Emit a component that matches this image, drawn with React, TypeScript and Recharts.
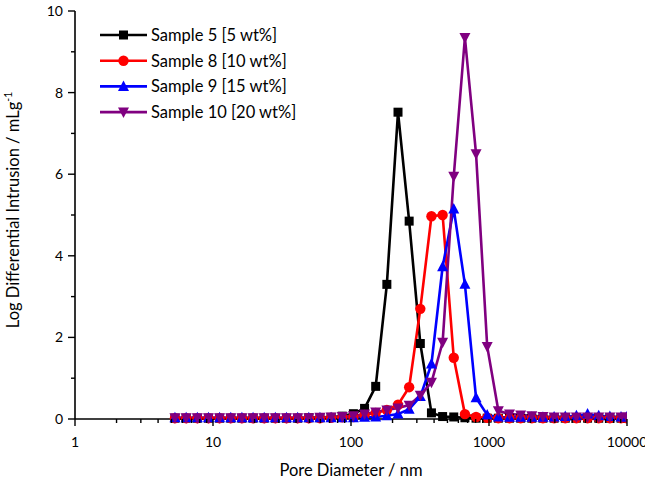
import React from 'react';
import { LineChart, Line, XAxis, YAxis, Customized } from 'recharts';

const poreDiameter = [
  5.3, 6.39, 7.7, 9.27, 11.16, 13.45, 16.2, 19.51, 23.5, 28.31,
  34.09, 41.06, 49.46, 59.57, 71.75, 86.43, 104.1, 125.4, 151.0, 181.9,
  219.1, 263.9, 317.9, 382.8, 461.2, 555.4, 669.0, 805.8, 970.5, 1169,
  1408, 1696, 2043, 2460, 2964, 3570, 4300, 5179, 6237, 7513, 9049, 9950,
];

const sample5 = [
  0.02, 0.02, 0.02, 0.02, 0.02, 0.02, 0.02, 0.02, 0.02, 0.02,
  0.02, 0.02, 0.03, 0.03, 0.04, 0.07, 0.13, 0.26, 0.8, 3.3,
  7.52, 4.85, 1.85, 0.15, 0.06, 0.05, 0.03, 0.02, 0.02, 0.02,
  0.02, 0.02, 0.02, 0.02, 0.02, 0.02, 0.02, 0.02, 0.02, 0.02, 0.02, 0.02,
];

const sample8 = [
  0.02, 0.02, 0.02, 0.02, 0.02, 0.02, 0.02, 0.02, 0.02, 0.02,
  0.02, 0.02, 0.02, 0.02, 0.03, 0.04, 0.05, 0.1, 0.15, 0.22,
  0.35, 0.78, 2.7, 4.97, 5.0, 1.5, 0.12, 0.05, 0.03, 0.02,
  0.02, 0.02, 0.02, 0.02, 0.02, 0.02, 0.02, 0.02, 0.02, 0.02, 0.02, 0.02,
];

const sample9 = [
  0.03, 0.03, 0.03, 0.03, 0.03, 0.03, 0.03, 0.03, 0.03, 0.03,
  0.03, 0.03, 0.03, 0.03, 0.03, 0.03, 0.03, 0.04, 0.05, 0.08,
  0.12, 0.24, 0.55, 1.35, 3.73, 5.15, 3.3, 0.52, 0.1, 0.05,
  0.04, 0.04, 0.04, 0.04, 0.05, 0.06, 0.08, 0.12, 0.08, 0.06, 0.05, 0.05,
];

const sample10 = [
  0.03, 0.03, 0.03, 0.03, 0.03, 0.03, 0.03, 0.03, 0.03, 0.03,
  0.03, 0.03, 0.03, 0.04, 0.05, 0.06, 0.08, 0.12, 0.17, 0.22,
  0.27, 0.34, 0.58, 0.9, 1.88, 5.95, 9.35, 6.5, 1.78, 0.2,
  0.12, 0.1, 0.08, 0.06, 0.05, 0.05, 0.05, 0.05, 0.05, 0.05, 0.05, 0.05,
];

const seriesNames = ['Sample 5 [5 wt%]', 'Sample 8 [10 wt%]', 'Sample 9 [15 wt%]', 'Sample 10 [20 wt%]'];
const seriesKeys = ['s5', 's8', 's9', 's10'];
const seriesColors = ['#000000', '#ff0000', '#0000ff', '#800080'];
const seriesShapes = ['square', 'circle', 'triangleUp', 'triangleDown'];

const xTicks = [
  1, 2, 3, 4, 5, 6, 7, 8, 9,
  10, 20, 30, 40, 50, 60, 70, 80, 90,
  100, 200, 300, 400, 500, 600, 700, 800, 900,
  1000, 2000, 3000, 4000, 5000, 6000, 7000, 8000, 9000,
  10000,
];
const xTickLabels = ['1', '10', '100', '1000', '10000'];
const yTicks = [0, 1, 2, 3, 4, 5, 6, 7, 8, 9, 10];
const yTickLabels = ['0', '2', '4', '6', '8', '10'];

const xTitle = 'Pore Diameter / nm';
const yTitle = 'Log Differential Intrusion / mLg';
const yTitleSup = '-1';

const data = poreDiameter.map((d, i) => ({
  d,
  s5: sample5[i],
  s8: sample8[i],
  s9: sample9[i],
  s10: sample10[i],
}));

const FONT = 'Lato, "Open Sans", sans-serif';

function Marker({ shape, cx, cy, color }: { shape: string; cx: number; cy: number; color: string }) {
  if (shape === 'square') {
    return <rect x={cx - 4.5} y={cy - 4.5} width={9} height={9} fill={color} />;
  }
  if (shape === 'circle') {
    return <circle cx={cx} cy={cy} r={5.2} fill={color} />;
  }
  if (shape === 'triangleUp') {
    return <polygon points={`${cx},${cy - 6} ${cx - 5.5},${cy + 4.5} ${cx + 5.5},${cy + 4.5}`} fill={color} />;
  }
  return <polygon points={`${cx},${cy + 6} ${cx - 5.5},${cy - 4.5} ${cx + 5.5},${cy - 4.5}`} fill={color} />;
}

const makeDot = (shape: string, color: string) => (props: any) => {
  const { cx, cy, index } = props;
  if (cx == null || cy == null) return <g key={`d-${index}`} />;
  return (
    <g key={`${shape}-${index}`}>
      <Marker shape={shape} cx={cx} cy={cy} color={color} />
    </g>
  );
};

const XTick = (props: any) => {
  const { x, y, payload } = props;
  const v = payload.value;
  const label = xTickLabels.find((l) => Number(l) === v);
  const major = label !== undefined;
  return (
    <g>
      <line x1={x} x2={x} y1={y} y2={y + (major ? 7 : 4)} stroke="#000" strokeWidth={1.4} />
      {major && (
        <text x={x} y={y + 28} textAnchor="middle" fontSize={14} fontFamily={FONT} fill="#000">
          {label}
        </text>
      )}
    </g>
  );
};

const YTick = (props: any) => {
  const { x, y, payload } = props;
  const v = payload.value;
  const label = yTickLabels.find((l) => Number(l) === v);
  const major = label !== undefined;
  return (
    <g>
      <line x1={x} x2={x - (major ? 7 : 4)} y1={y} y2={y} stroke="#000" strokeWidth={1.4} />
      {major && (
        <text x={x - 12} y={y + 5} textAnchor="end" fontSize={14} fontFamily={FONT} fill="#000">
          {label}
        </text>
      )}
    </g>
  );
};

const LegendBox = () => {
  const left = 100;
  const top = 35;
  const gap = 25.7;
  return (
    <g>
      {seriesNames.map((name, i) => {
        const cy = top + i * gap;
        return (
          <g key={name}>
            <line x1={left} x2={left + 47} y1={cy} y2={cy} stroke={seriesColors[i]} strokeWidth={2.6} />
            <Marker shape={seriesShapes[i]} cx={left + 23.5} cy={cy} color={seriesColors[i]} />
            <text x={left + 51} y={cy + 6} fontSize={16.5} fontFamily={FONT} fill="#000">
              {name}
            </text>
          </g>
        );
      })}
    </g>
  );
};

const Titles = () => (
  <g>
    <text x={351} y={476} textAnchor="middle" fontSize={16.5} fontFamily={FONT} fill="#000">
      {xTitle}
    </text>
    <text
      transform="translate(19, 210) rotate(-90)"
      textAnchor="middle"
      fontSize={16.5}
      fontFamily={FONT}
      fill="#000"
    >
      {yTitle}
      <tspan dy={-7} fontSize={10.5}>
        {yTitleSup}
      </tspan>
    </text>
  </g>
);

export default function App() {
  return (
    <div style={{ position: 'absolute', left: 0, top: 0, width: 645, height: 484, background: '#fff' }}>
      <LineChart width={645} height={484} data={data} margin={{ top: 11, right: 18, left: 0, bottom: 0 }}>
        <XAxis
          dataKey="d"
          type="number"
          scale="log"
          domain={[1, 10000]}
          ticks={xTicks}
          interval={0}
          height={65}
          tick={<XTick />}
          tickLine={false}
          tickSize={0}
          tickMargin={0}
          axisLine={{ stroke: '#000', strokeWidth: 1.6 }}
          allowDataOverflow
        />
        <YAxis
          type="number"
          domain={[0, 10]}
          ticks={yTicks}
          interval={0}
          width={75}
          tick={<YTick />}
          tickLine={false}
          tickSize={0}
          tickMargin={0}
          axisLine={{ stroke: '#000', strokeWidth: 1.6 }}
        />
        {seriesKeys.map((k, i) => (
          <Line
            key={k}
            type="linear"
            dataKey={k}
            stroke={seriesColors[i]}
            strokeWidth={2.6}
            dot={makeDot(seriesShapes[i], seriesColors[i])}
            activeDot={false}
            isAnimationActive={false}
          />
        ))}
        <Customized component={LegendBox} />
        <Customized component={Titles} />
      </LineChart>
    </div>
  );
}
